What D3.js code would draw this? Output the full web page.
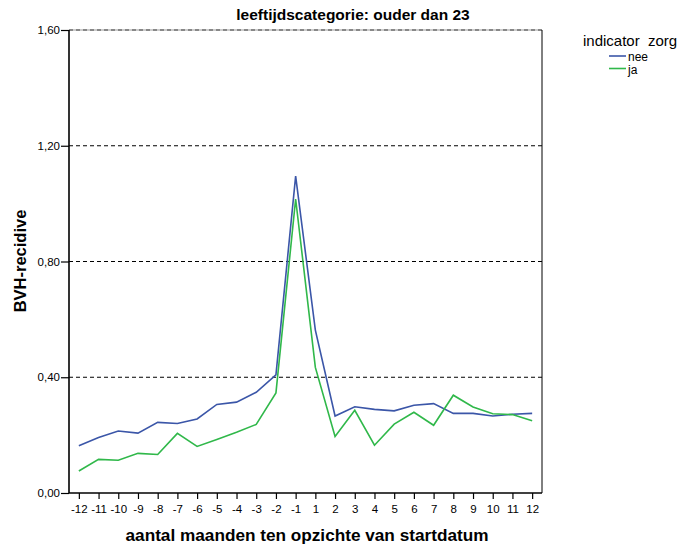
<!DOCTYPE html>
<html><head><meta charset="utf-8">
<script src="https://cdn.jsdelivr.net/npm/d3@7"></script>
<style>body{margin:0;background:#fff;} svg{display:block;font-family:"Liberation Sans",Arial,sans-serif;} text{white-space:pre;}</style>
</head><body>
<script>
const months = ["-12","-11","-10","-9","-8","-7","-6","-5","-4","-3","-2","-1","1","2","3","4","5","6","7","8","9","10","11","12"];
const nee = [0.163,0.192,0.214,0.207,0.244,0.240,0.256,0.306,0.314,0.348,0.408,1.095,0.563,0.266,0.298,0.289,0.284,0.303,0.309,0.275,0.275,0.266,0.272,0.275];
const ja  = [0.076,0.116,0.113,0.137,0.133,0.206,0.161,0.185,0.210,0.237,0.346,1.016,0.434,0.195,0.286,0.165,0.238,0.279,0.234,0.338,0.297,0.274,0.271,0.250];
const yTicks = [0,0.4,0.8,1.2,1.6];
const seriesNames = ["nee","ja"];
const colors = ["#3b56a8","#30b84a"];

const W=681,H=548, L=69, R=542, T=30, B=493;
const svg=d3.select("body").append("svg").attr("width",W).attr("height",H);
const x=d3.scalePoint().domain(months).range([L,R]).padding(0.5);
const y=d3.scaleLinear().domain([0,1.6]).range([B,T]);
const fmt=d=>d.toFixed(2).replace(".",",");

// gridlines
svg.append("g").selectAll("line").data(yTicks.filter(d=>d>0&&d<1.6)).join("line")
  .attr("x1",L).attr("x2",R).attr("y1",d=>y(d)).attr("y2",d=>y(d))
  .attr("stroke","#000").attr("stroke-width",1).attr("stroke-dasharray","4,3");
// top border
svg.append("line").attr("x1",L).attr("x2",R).attr("y1",T).attr("y2",T).attr("stroke","#999").attr("stroke-width",1.2);
svg.append("line").attr("x1",L).attr("x2",R).attr("y1",T).attr("y2",T).attr("stroke","#444").attr("stroke-width",1.2).attr("stroke-dasharray","4,3");
// right border
svg.append("line").attr("x1",R).attr("x2",R).attr("y1",T).attr("y2",B).attr("stroke","#000").attr("stroke-width",1);

// axes
const yAxis=d3.axisLeft(y).tickValues(yTicks).tickFormat(fmt).tickSize(8).tickPadding(1);
const gy=svg.append("g").attr("transform",`translate(${L},0)`).call(yAxis);
const xAxis=d3.axisBottom(x).tickSize(6).tickPadding(6);
const gx=svg.append("g").attr("transform",`translate(0,${B})`).call(xAxis);
[gx,gy].forEach(g=>{
  g.select(".domain").attr("stroke","#000").attr("stroke-width",1.6);
  g.selectAll(".tick line").attr("stroke","#000").attr("stroke-width",1.2);
  g.selectAll("text").attr("font-size",11.5).attr("fill","#000").attr("font-family","'Liberation Sans',Arial,sans-serif");
});
gx.select(".domain").attr("d",`M${L},0H${R}`);
gy.select(".domain").attr("d",`M0,${B}V${T}`);

// lines
const line=d3.line().x((d,i)=>x(months[i])).y(d=>y(d));
[nee,ja].forEach((s,k)=>{
  svg.append("path").datum(s).attr("d",line).attr("fill","none")
    .attr("stroke",colors[k]).attr("stroke-width",1.6).attr("stroke-linejoin","miter");
});

// titles
svg.append("text").attr("x",353).attr("y",20).attr("text-anchor","middle")
  .attr("font-size",15.5).attr("font-weight","bold").text("leeftijdscategorie: ouder dan 23");
svg.append("text").attr("x",307).attr("y",541).attr("text-anchor","middle")
  .attr("font-size",17.2).attr("font-weight","bold").text("aantal maanden ten opzichte van startdatum");
svg.append("text").attr("transform","translate(26,261) rotate(-90)").attr("text-anchor","middle")
  .attr("font-size",16.5).attr("font-weight","bold").text("BVH-recidive");

// legend
svg.append("text").attr("x",583).attr("y",46).attr("font-size",15).text("indicator  zorg");
const lg=svg.append("g").selectAll("g").data(seriesNames).join("g")
  .attr("transform",(d,i)=>`translate(0,${56+i*12.5})`);
lg.append("line").attr("x1",609).attr("x2",626).attr("stroke",(d,i)=>colors[i]).attr("stroke-width",1.6);
lg.append("text").attr("x",628).attr("y",5).attr("font-size",12).text(d=>d);
</script>
</body></html>
